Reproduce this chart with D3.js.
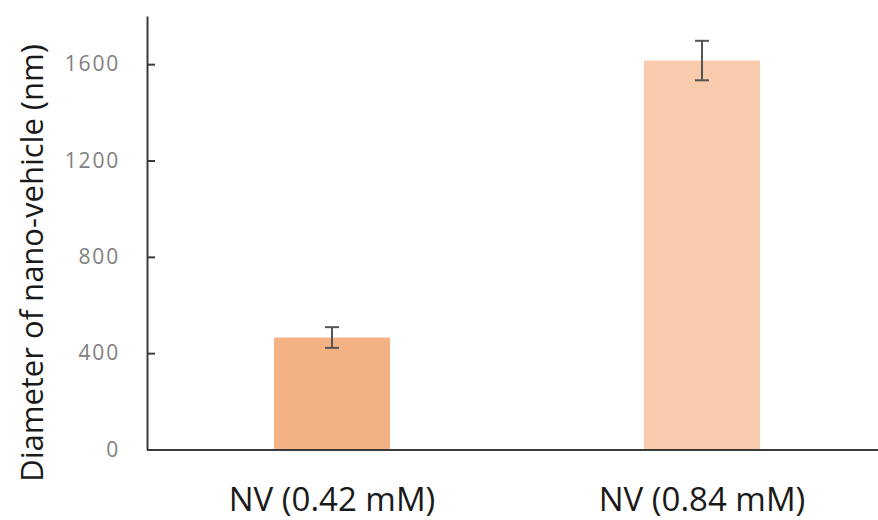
<!DOCTYPE html>
<html>
<head>
<meta charset="utf-8">
<script src="https://cdnjs.cloudflare.com/ajax/libs/d3/7.8.5/d3.min.js"></script>
<style>
  body { margin: 0; background: #fff; }
  svg { display: block; }
</style>
</head>
<body>
<div id="chart"></div>
<script>
var categories = ["NV (0.42 mM)", "NV (0.84 mM)"];
var diameters = [465, 1615];
var errors = [43, 82];
var colors = ["#F4B183", "#F8CBAD"];
var yTicks = [0, 400, 800, 1200, 1600];

var W = 878, H = 520;
var margin = {top: 16, left: 147},
    plotBottom = 449.5;

var svg = d3.select("#chart").append("svg")
    .attr("width", W)
    .attr("height", H);

var x = d3.scaleBand()
    .domain(categories)
    .range([margin.left, 887])
    .paddingInner(0.6865)
    .paddingOuter(0.34325);

var y = d3.scaleLinear()
    .domain([0, 1800])
    .range([plotBottom, margin.top]);

// bars
svg.selectAll(".bar")
    .data(categories)
    .enter().append("rect")
    .attr("class", "bar")
    .attr("x", function(d) { return x(d); })
    .attr("width", x.bandwidth())
    .attr("y", function(d, i) { return y(diameters[i]); })
    .attr("height", function(d, i) { return plotBottom - y(diameters[i]); })
    .attr("fill", function(d, i) { return colors[i]; });

// error bars
var eb = svg.selectAll(".err").data(categories).enter().append("g")
    .attr("class", "err")
    .attr("stroke", "#555")
    .attr("stroke-width", 2);
eb.append("line")
    .attr("x1", function(d) { return x(d) + x.bandwidth() / 2; })
    .attr("x2", function(d) { return x(d) + x.bandwidth() / 2; })
    .attr("y1", function(d, i) { return y(diameters[i] + errors[i]); })
    .attr("y2", function(d, i) { return y(diameters[i] - errors[i]); });
[1, -1].forEach(function(s) {
  eb.append("line")
    .attr("x1", function(d) { return x(d) + x.bandwidth() / 2 - 7; })
    .attr("x2", function(d) { return x(d) + x.bandwidth() / 2 + 7; })
    .attr("y1", function(d, i) { return y(diameters[i] + s * errors[i]); })
    .attr("y2", function(d, i) { return y(diameters[i] + s * errors[i]); });
});

// y axis
var yAxis = d3.axisRight(y)
    .tickValues(yTicks)
    .tickFormat(d3.format("d"))
    .tickSize(8)
    .tickSizeOuter(0);
var gy = svg.append("g")
    .attr("transform", "translate(" + margin.left + ",0)")
    .call(yAxis);
gy.select(".domain").attr("stroke", "#3a3a3a").attr("stroke-width", 2);
gy.selectAll(".tick line").attr("stroke", "#3a3a3a").attr("stroke-width", 2);
gy.selectAll(".tick text")
    .attr("x", -27)
    .attr("text-anchor", "end")
    .attr("fill", "#808080")
    .style("font-family", "'Open Sans', sans-serif")
    .style("font-size", "21px")
    .style("letter-spacing", "1.8px");

// x axis
var xAxis = d3.axisBottom(x).tickSize(0);
var gx = svg.append("g")
    .attr("transform", "translate(0," + plotBottom + ")")
    .call(xAxis);
gx.select(".domain").attr("stroke", "#3a3a3a").attr("stroke-width", 2);
gx.selectAll(".tick text")
    .attr("y", 61)
    .attr("dy", 0)
    .attr("fill", "#1a1a1a")
    .style("font-family", "'Open Sans', sans-serif")
    .style("font-size", "33px");

// y title
svg.append("text")
    .attr("transform", "translate(43," + 263 + ") rotate(-90)")
    .attr("text-anchor", "middle")
    .attr("fill", "#1a1a1a")
    .style("font-family", "'Open Sans', sans-serif")
    .style("font-size", "31px")
    .text("Diameter of nano-vehicle (nm)");
</script>
</body>
</html>
